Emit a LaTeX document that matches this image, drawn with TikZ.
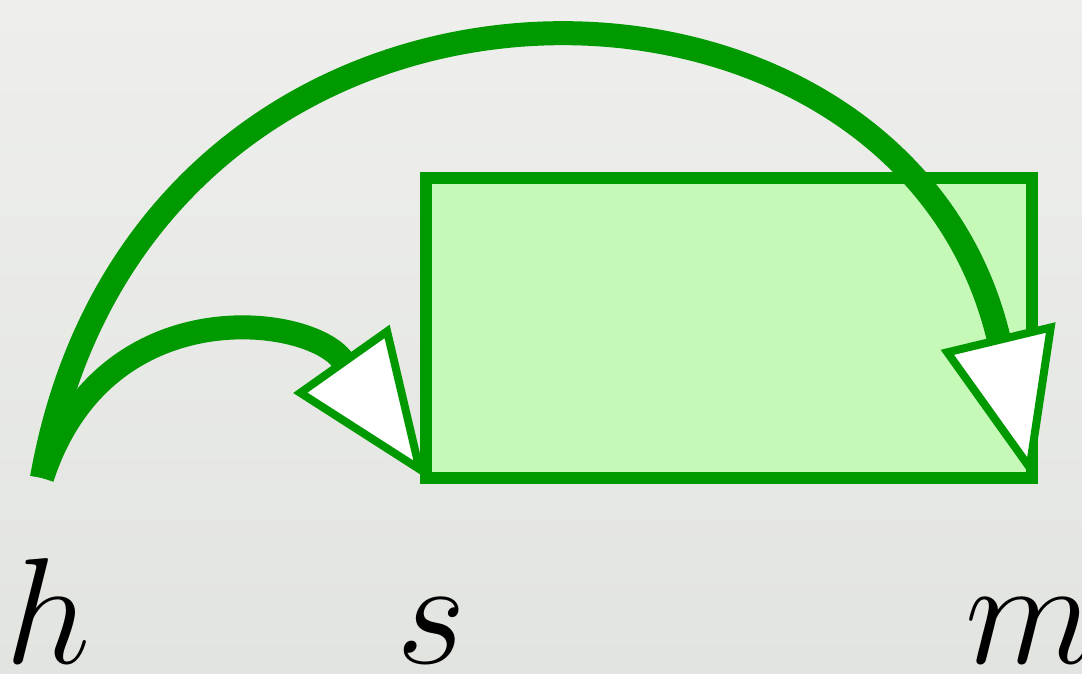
\RequirePackage{fix-cm}
\documentclass[tikz,border=0pt]{standalone}
\usepackage{amsmath}
\usetikzlibrary{arrows.meta}
\definecolor{Leaf}{HTML}{009900}
\definecolor{Mint}{HTML}{C6F8B8}
\definecolor{PaperTop}{HTML}{EEEFEC}
\definecolor{PaperBot}{HTML}{E2E4E0}

\begin{document}
\begin{tikzpicture}[x=0.01cm,y=0.01cm,
 box/.style={draw=Leaf,fill=Mint,line width=1.2mm,minimum width=6.06cm,
   minimum height=3cm,inner sep=0pt,outer sep=0pt},
 lbl/.style={anchor=base,inner sep=0pt,font=\fontsize{43}{43}\selectfont},
 arc/.style={draw=Leaf,line width=2.4mm,
   -{Triangle[length=14.6mm,width=11.6mm,fill=white,line width=0.8mm]}}]
 \useasboundingbox (0,0) rectangle (1082,674);
 \fill[top color=PaperTop,bottom color=PaperBot] (0,0) rectangle (1082,674);
 % labels along the bottom
 \node[lbl] (h) at (48,10) {$h$};
 \node[lbl] (s) at (431,10) {$s$};
 \node[lbl] (m) at (1030,10) {$m$};
 \node[box] (blk) at (729,346) {};
 \coordinate (root) at (42,196);
 % arcs from h
 \draw[arc] (root) .. controls +(72:200) and +(125.3:200) .. (blk.south west);
 \draw[arc] (root) .. controls +(80:580) and +(103.5:580) .. (blk.south east);
\end{tikzpicture}
\end{document}
